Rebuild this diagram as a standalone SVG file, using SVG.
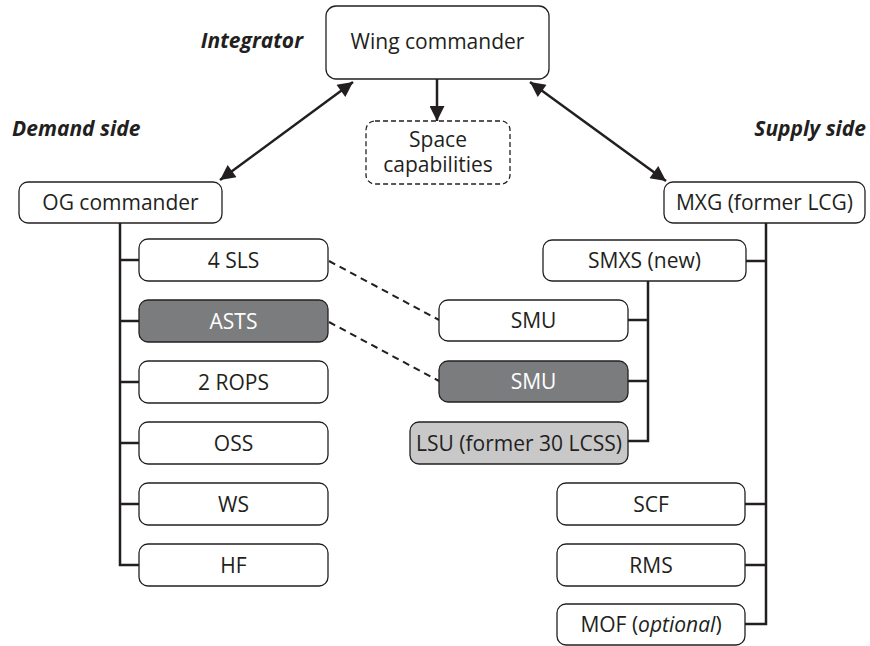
<svg xmlns="http://www.w3.org/2000/svg" width="870" height="646" viewBox="0 0 870 646">
<defs>
<marker id="ah" viewBox="0 0 10 10" refX="10" refY="5" markerWidth="6.5" markerHeight="6" markerUnits="strokeWidth" orient="auto-start-reverse">
<path d="M0,0 L10,5 L0,10 z" fill="#231f20"/>
</marker>
<style>
.box{fill:#fff;stroke:#231f20;stroke-width:1.3}
.dark{fill:#7b7c7e;stroke:#231f20;stroke-width:1.3}
.light{fill:#c8c8c9;stroke:#231f20;stroke-width:1.3}
.dash{fill:#fff;stroke:#231f20;stroke-width:1.3;stroke-dasharray:5,3}
.t{font-family:"Open Sans","Noto Sans",sans-serif;font-size:21px;fill:#231f20;text-anchor:middle}
.w{fill:#fff}
.lbl{font-family:"Open Sans","Noto Sans",sans-serif;font-size:21px;font-weight:bold;font-style:italic;fill:#231f20}
.ln{fill:none;stroke:#231f20;stroke-width:2.5}
.arr{fill:none;stroke:#231f20;stroke-width:2.5;marker-start:url(#ah);marker-end:url(#ah)}
.dl{fill:none;stroke:#231f20;stroke-width:2;stroke-dasharray:7,5}
</style>
</defs>
<g id="labels">
<text class="lbl" x="303" y="48" text-anchor="end">Integrator</text>
<text class="lbl" x="12" y="136">Demand side</text>
<text class="lbl" x="866" y="136" text-anchor="end">Supply side</text>
</g>
<g id="connectors">
<line class="arr" x1="353" y1="82" x2="220" y2="180"/>
<line class="arr" x1="530" y1="82" x2="666" y2="181"/>
<line class="ln" x1="437" y1="79" x2="437" y2="121" marker-end="url(#ah)"/>
<polyline class="ln" points="120,223 120,565 139,565"/>
<line class="ln" x1="120" y1="260" x2="139" y2="260"/>
<line class="ln" x1="120" y1="321" x2="139" y2="321"/>
<line class="ln" x1="120" y1="382" x2="139" y2="382"/>
<line class="ln" x1="120" y1="443" x2="139" y2="443"/>
<line class="ln" x1="120" y1="504" x2="139" y2="504"/>
<polyline class="ln" points="766,223 766,624 745,624"/>
<line class="ln" x1="746" y1="261" x2="766" y2="261"/>
<line class="ln" x1="745" y1="504" x2="766" y2="504"/>
<line class="ln" x1="745" y1="565" x2="766" y2="565"/>
<polyline class="ln" points="648,281 648,441 628,441"/>
<line class="ln" x1="628" y1="320" x2="648" y2="320"/>
<line class="ln" x1="628" y1="381" x2="648" y2="381"/>
<line class="dl" x1="329" y1="261" x2="439" y2="320"/>
<line class="dl" x1="329" y1="322" x2="439" y2="381"/>
</g>
<g id="wing"><rect class="box" x="326" y="6" width="223" height="73" rx="10"/><text class="t" x="437.5" y="49">Wing commander</text></g>
<g id="space"><rect class="dash" x="366" y="121" width="144" height="63" rx="9"/><text class="t" x="438" y="147">Space</text><text class="t" x="438" y="172">capabilities</text></g>
<g id="og"><rect class="box" x="19" y="182" width="203" height="41" rx="9"/><text class="t" x="120.5" y="210">OG commander</text></g>
<g id="sls"><rect class="box" x="139" y="239" width="189" height="42" rx="9"/><text class="t" x="233.5" y="268">4 SLS</text></g>
<g id="asts"><rect class="dark" x="139" y="300" width="189" height="42" rx="9"/><text class="t w" x="233.5" y="329">ASTS</text></g>
<g id="rops"><rect class="box" x="139" y="361" width="189" height="42" rx="9"/><text class="t" x="233.5" y="390">2 ROPS</text></g>
<g id="oss"><rect class="box" x="139" y="422" width="189" height="42" rx="9"/><text class="t" x="233.5" y="451">OSS</text></g>
<g id="ws"><rect class="box" x="139" y="483" width="189" height="42" rx="9"/><text class="t" x="233.5" y="512">WS</text></g>
<g id="hf"><rect class="box" x="139" y="544" width="189" height="42" rx="9"/><text class="t" x="233.5" y="573">HF</text></g>
<g id="mxg"><rect class="box" x="664" y="182" width="201" height="41" rx="9"/><text class="t" x="764.5" y="210">MXG (former LCG)</text></g>
<g id="smxs"><rect class="box" x="543" y="240" width="203" height="41" rx="9"/><text class="t" x="644.5" y="268">SMXS (new)</text></g>
<g id="smu1"><rect class="box" x="439" y="300" width="189" height="41" rx="9"/><text class="t" x="533.5" y="328">SMU</text></g>
<g id="smu2"><rect class="dark" x="439" y="361" width="189" height="41" rx="9"/><text class="t w" x="533.5" y="389">SMU</text></g>
<g id="lsu"><rect class="light" x="410" y="422" width="218" height="42" rx="9"/><text class="t" x="519" y="451">LSU (former 30 LCSS)</text></g>
<g id="scf"><rect class="box" x="557" y="483" width="188" height="42" rx="9"/><text class="t" x="651" y="512">SCF</text></g>
<g id="rms"><rect class="box" x="557" y="544" width="188" height="42" rx="9"/><text class="t" x="651" y="573">RMS</text></g>
<g id="mof"><rect class="box" x="557" y="604" width="188" height="41" rx="9"/><text class="t" x="651" y="632">MOF (<tspan font-style="italic">optional</tspan>)</text></g>
</svg>
